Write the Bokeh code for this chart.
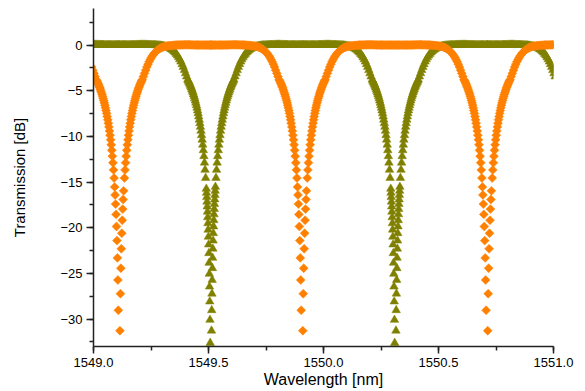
import numpy as np
from bokeh.plotting import figure
from bokeh.models import Range1d, SingleIntervalTicker, PrintfTickFormatter, ColumnDataSource
from bokeh.embed import file_html
from bokeh.resources import INLINE

# ---- data ----
x_label = "Wavelength [nm]"
y_label = "Transmission [dB]"
x_ticks = [1549.0, 1549.5, 1550.0, 1550.5, 1551.0]
y_ticks = [0, -5, -10, -15, -20, -25, -30]

# resonance (dip) centres in nm
orange_dip_centers = [1549.112, 1549.907, 1550.711]
olive_dip_centers = [1548.710, 1549.510, 1550.312, 1551.112]

# dip bottom, orange series: offset from dip centre (nm) -> transmission (dB)
orange_right_offset = [0.001, 0.003, 0.005, 0.007, 0.009, 0.011, 0.013, 0.015, 0.017, 0.019]
orange_right_db = [-37.65, -31.27, -27.22, -24.43, -22.30, -20.60, -19.18, -17.96, -16.90, -15.96]
orange_left_offset = [0.002, 0.004, 0.006, 0.008, 0.010, 0.012, 0.014, 0.016, 0.018, 0.020]
orange_left_db = [-34.12, -29.03, -25.72, -23.30, -21.41, -19.86, -18.54, -17.41, -16.41, -15.53]

# dip bottom, olive series (denser points)
olive_right_offset = [0.001, 0.002, 0.003, 0.004, 0.005, 0.006, 0.007, 0.008, 0.009, 0.010,
                      0.011, 0.012, 0.013, 0.014, 0.015, 0.016, 0.017, 0.018, 0.019, 0.020]
olive_right_db = [-37.65, -34.12, -31.27, -29.03, -27.22, -25.72, -24.43, -23.30, -22.30, -21.41,
                  -20.60, -19.86, -19.18, -18.54, -17.96, -17.41, -16.90, -16.41, -15.96, -15.53]
olive_left_offset = [0.0015, 0.0025, 0.0035, 0.0045, 0.0055, 0.0065, 0.0075, 0.0085, 0.0095,
                     0.0105, 0.0115, 0.0125, 0.0135, 0.0145, 0.0155, 0.0165, 0.0175, 0.0185, 0.0195]
olive_left_db = [-35.82, -32.61, -30.09, -28.08, -26.45, -25.05, -23.85, -22.79, -21.84,
                 -20.99, -20.22, -19.51, -18.86, -18.25, -17.68, -17.15, -16.65, -16.18, -15.74]

# dip flanks and flat top, both series
outer_offset = [
    0.0225, 0.0250, 0.0275, 0.0300, 0.0325, 0.0350, 0.0375, 0.0400,
    0.0425, 0.0450, 0.0475, 0.0500, 0.0525, 0.0550, 0.0575, 0.0600,
    0.0625, 0.0650, 0.0675, 0.0700, 0.0725, 0.0750, 0.0775, 0.0800,
    0.0825, 0.0850, 0.0875, 0.0900, 0.0925, 0.0950, 0.0975, 0.1000,
    0.105, 0.110, 0.115, 0.120, 0.125, 0.130, 0.135, 0.140, 0.145, 0.150,
    0.155, 0.160, 0.165, 0.170, 0.175, 0.180, 0.185, 0.190, 0.195, 0.200,
    0.205, 0.210, 0.215, 0.220, 0.225, 0.230, 0.235, 0.240, 0.245, 0.250,
    0.255, 0.260, 0.265, 0.270, 0.275, 0.280, 0.285, 0.290, 0.295, 0.300,
    0.305, 0.310, 0.315, 0.320, 0.325, 0.330, 0.335, 0.340, 0.345, 0.350,
    0.355, 0.360, 0.365, 0.370, 0.375, 0.380, 0.385, 0.390, 0.395, 0.400]
outer_db = [
    -14.55, -13.67, -12.88, -12.17, -11.52, -10.92, -10.37, -9.87,
    -9.40, -8.96, -8.56, -8.18, -7.82, -7.48, -7.17, -6.87,
    -6.59, -6.33, -6.08, -5.84, -5.62, -5.41, -5.21, -5.02,
    -4.84, -4.66, -4.50, -4.34, -4.19, -4.05, -3.92, -3.79,
    -3.45, -3.10, -2.75, -2.40, -2.10, -1.82, -1.57, -1.35, -1.15, -0.98,
    -0.83, -0.70, -0.58, -0.48, -0.40, -0.33, -0.27, -0.22, -0.18, -0.15,
    -0.12, -0.10, -0.08, -0.06, -0.05, -0.04, -0.03, -0.02, -0.01, 0.00,
    0.00, 0.01, 0.01, 0.02, 0.02, 0.02, 0.03, 0.03, 0.03, 0.03,
    0.03, 0.02, 0.02, 0.02, 0.01, 0.01, 0.01, 0.00, 0.00, 0.00,
    0.00, 0.00, 0.00, 0.00, 0.00, 0.00, 0.00, 0.00, 0.00, 0.00]


# ---- build series from the tables ----
def series(centers, left_off, left_db, right_off, right_db):
    off = np.concatenate([-np.array(outer_offset)[::-1], -np.array(left_off)[::-1],
                          np.array(right_off), np.array(outer_offset)])
    db = np.concatenate([np.array(outer_db)[::-1], np.array(left_db)[::-1],
                         np.array(right_db), np.array(outer_db)])
    x = np.concatenate([c + off for c in centers])
    y = np.tile(db, len(centers))
    keep = (x >= x_ticks[0] - 0.01) & (x <= x_ticks[-1] + 0.01)
    return ColumnDataSource(dict(x=x[keep], y=y[keep]))


olive_src = series(olive_dip_centers, olive_left_offset, olive_left_db,
                   olive_right_offset, olive_right_db)
orange_src = series(orange_dip_centers, orange_left_offset, orange_left_db,
                    orange_right_offset, orange_right_db)

p = figure(width=585, height=391, x_range=Range1d(1549.0, 1551.0), y_range=Range1d(-33, 4),
           output_backend="svg", toolbar_location=None,
           min_border_left=93, min_border_right=32, min_border_top=8, min_border_bottom=45)
p.outline_line_color = None
p.xgrid.visible = False
p.ygrid.visible = False
p.background_fill_color = "white"
p.border_fill_color = "white"

p.scatter("x", "y", source=olive_src, marker="triangle", size=8.5,
          fill_color="#808000", line_color="#808000", line_width=0.5)
p.scatter("x", "y", source=orange_src, marker="square", size=6.3, angle=np.pi / 4,
          fill_color="#ff8000", line_color="#ff8000", line_width=0.5)

p.xaxis.ticker = SingleIntervalTicker(interval=0.5, num_minor_ticks=2)
p.xaxis.formatter = PrintfTickFormatter(format="%.1f")
p.yaxis.ticker = SingleIntervalTicker(interval=5, num_minor_ticks=2)

for ax in (p.xaxis[0], p.yaxis[0]):
    ax.axis_line_color = "#222222"
    ax.axis_line_width = 1.5
    ax.major_tick_line_color = "#222222"
    ax.major_tick_line_width = 1.5
    ax.minor_tick_line_color = "#222222"
    ax.minor_tick_line_width = 1.5
    ax.major_tick_in = 0
    ax.major_tick_out = 7
    ax.minor_tick_in = 0
    ax.minor_tick_out = 4
    ax.major_label_text_font = "Liberation Sans"
    ax.major_label_text_font_size = "13px"
    ax.major_label_text_color = "black"
    ax.axis_label_text_font = "Liberation Sans"
    ax.axis_label_text_font_style = "normal"
    ax.axis_label_text_color = "black"

p.xaxis.axis_label = x_label
p.yaxis.axis_label = y_label
p.xaxis.axis_label_text_font_size = "16px"
p.yaxis.axis_label_text_font_size = "15px"
p.xaxis.major_label_standoff = 4
p.xaxis.axis_label_standoff = 1
p.yaxis.major_label_standoff = 4
p.yaxis.axis_label_standoff = 29

open("out.html", "w").write(file_html(p, INLINE))
